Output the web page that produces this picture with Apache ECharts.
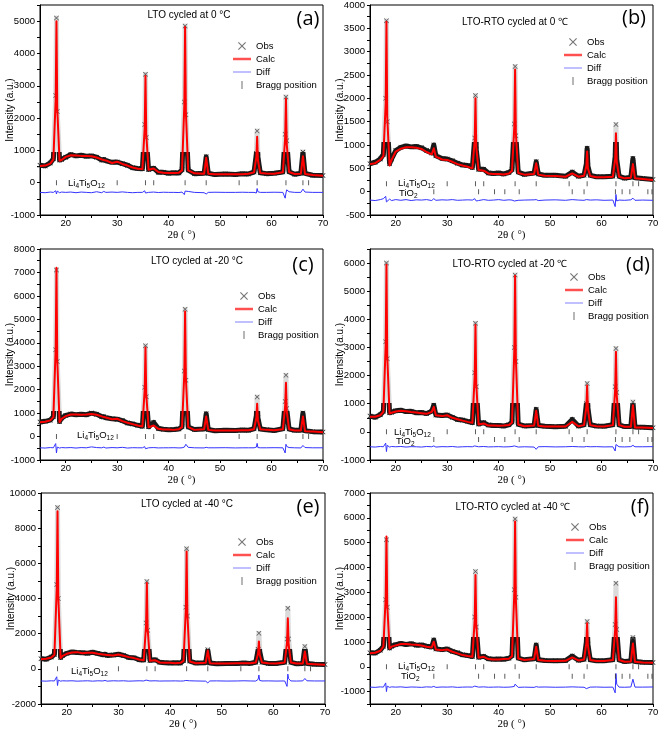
<!DOCTYPE html>
<html><head><meta charset="utf-8">
<script src="https://cdn.jsdelivr.net/npm/echarts@6/dist/echarts.min.js"></script>
<style>html,body{margin:0;padding:0;background:#fff}#c{width:660px;height:731px}</style>
</head><body><div id="c"></div>
<script>
// ---------- data ----------
const twoTheta = [15,16,17,17.6,18.05,18.2,18.35,18.8,19.2,20,
 21,22,23,24,25,26,27,27.4,27.8,29,
 30,31,32,33,34,34.9,35.35,35.5,35.65,36.1,
 37.1,38,39,40,41,42,42.6,43.05,43.2,43.35,
 43.8,45,46.9,47.3,47.7,49,51,53,54.3,55.5,
 56.6,57.05,57.2,57.35,57.8,59,60.5,62.2,62.65,62.8,
 62.95,63.4,64.5,65.7,66.1,66.5,68,70];

const obsA = [540,520,610,740,2700,5100,2200,700,720,790,
 870,830,850,820,830,790,700,720,680,630,
 640,590,540,460,440,430,1800,3360,1400,410,
 450,320,320,290,310,300,400,2500,4850,2100,
 390,280,290,800,290,250,270,255,275,270,
 330,900,1600,800,310,280,290,330,1500,2650,
 1300,340,260,290,950,290,230,220];
const calcA = [520,530,590,720,2600,5000,2300,680,700,800,
 850,840,830,830,820,780,720,700,690,610,
 650,580,530,470,430,420,1700,3300,1500,400,
 440,330,310,300,300,310,380,2400,4820,2200,
 380,290,280,770,280,260,260,265,265,275,
 320,800,1420,700,300,285,280,320,1400,2600,
 1200,330,270,280,820,270,240,215];
const diffA = [-300,-310,-290,-300,-250,-350,-260,-310,-290,-300,
 -290,-310,-290,-300,-310,-280,-310,-270,-300,-290,
 -300,-285,-300,-310,-300,-300,-250,-320,-280,-300,
 -290,-305,-295,-300,-300,-305,-290,-370,-260,-200,
 -270,-300,-310,-350,-300,-295,-300,-300,-295,-300,
 -300,-320,-180,-280,-300,-300,-295,-300,-480,-320,
 -220,-280,-300,-300,-200,-290,-300,-300];

const obsB = [600,630,700,800,2000,3660,1500,600,700,880,
 950,980,960,970,940,880,830,1000,770,710,
 700,660,610,570,560,520,1150,2060,900,480,
 480,400,390,400,380,410,470,1450,2680,1200,
 420,370,400,640,380,350,350,330,420,330,
 350,600,930,550,350,320,320,330,750,1440,
 700,330,290,310,710,300,280,260];
const calcB = [590,610,680,760,1900,3640,1600,560,680,860,
 920,950,950,940,915,850,800,930,750,690,
 680,640,590,560,535,500,1100,2000,950,465,
 450,390,380,380,370,390,450,1400,2620,1250,
 400,365,380,610,365,340,335,320,390,320,
 340,550,860,500,335,310,310,320,700,1250,
 650,320,285,300,590,285,270,250];
const diffB = [-180,-190,-170,-150,-100,-220,-250,-160,-190,-170,
 -185,-170,-190,-175,-180,-170,-190,-150,-185,-175,
 -180,-170,-185,-180,-175,-180,-150,-120,-200,-190,
 -170,-185,-180,-170,-185,-175,-180,-200,-160,-170,
 -185,-180,-175,-170,-190,-180,-175,-185,-170,-180,
 -185,-170,-150,-190,-180,-175,-185,-180,-320,-60,
 -200,-180,-185,-175,-140,-185,-180,-185];

const obsC = [620,650,700,850,3700,7100,3200,640,790,900,
 960,930,950,930,1000,950,850,850,800,760,
 740,680,580,540,480,440,2100,3870,1700,420,
 600,340,310,290,300,320,420,2800,5430,2400,
 410,300,320,970,300,250,270,255,280,270,
 330,900,1690,800,320,290,260,330,1500,2610,
 1200,320,270,270,1000,250,210,190];
const calcC = [610,630,690,830,3800,7200,3300,610,760,870,
 940,940,930,940,960,930,860,830,810,740,
 760,660,590,530,470,430,2000,3800,1800,400,
 470,330,300,300,285,315,400,2700,5330,2500,
 400,285,315,860,285,260,260,260,270,270,
 315,800,1400,700,315,285,270,315,1300,2290,
 1100,315,260,260,860,230,215,185];
const diffC = [-480,-490,-470,-480,-300,-700,-450,-490,-470,-480,
 -470,-490,-470,-480,-440,-470,-480,-450,-490,-470,
 -480,-460,-490,-475,-480,-480,-430,-520,-450,-480,
 -470,-485,-480,-480,-475,-485,-480,-450,-420,-330,
 -460,-480,-485,-460,-480,-480,-475,-485,-480,-480,
 -480,-450,-290,-470,-480,-480,-475,-480,-700,-330,
 -420,-470,-480,-485,-380,-470,-480,-480];

const obsD = [560,520,610,730,3200,6000,2600,680,700,750,
 770,720,730,680,690,650,730,950,600,580,
 600,520,440,420,370,330,2100,3860,1600,280,
 330,240,230,230,210,250,350,3000,5580,2500,
 270,210,230,800,230,200,180,200,440,210,
 250,1000,1720,850,250,210,200,250,1600,2960,
 1400,250,190,190,1060,170,160,150];
const calcD = [535,535,590,710,3100,5940,2700,650,680,725,
 750,735,710,690,665,640,710,890,590,560,
 590,500,450,400,355,320,2000,3800,1700,260,
 300,225,225,215,225,240,330,2900,5550,2600,
 260,200,225,750,215,190,190,190,355,200,
 240,900,1650,800,240,200,190,240,1500,2850,
 1300,240,180,180,950,155,155,140];
const diffD = [-530,-540,-520,-530,-400,-700,-480,-540,-520,-530,
 -520,-540,-525,-530,-540,-520,-530,-500,-540,-525,
 -530,-520,-540,-530,-525,-530,-500,-450,-560,-530,
 -520,-535,-530,-525,-535,-530,-520,-500,-450,-480,
 -540,-530,-540,-620,-530,-525,-535,-530,-520,-530,
 -535,-520,-510,-540,-530,-525,-535,-530,-680,-450,
 -520,-530,-535,-525,-480,-530,-530,-525];

const obsE = [580,550,670,820,4800,9180,4000,650,760,880,
 960,930,920,890,940,870,800,830,760,790,
 830,760,650,630,520,500,2600,4970,2200,480,
 520,370,350,330,340,330,470,3500,6830,3000,
 440,330,350,1080,330,290,310,300,330,310,
 370,1100,2030,1000,380,310,300,370,1700,3450,
 1700,370,290,310,1270,300,260,240];
const calcE = [550,570,645,800,4600,8960,4100,610,740,855,
 930,950,890,910,910,855,815,800,780,760,
 815,740,665,610,530,490,2500,4880,2300,455,
 490,360,340,340,320,340,450,3400,6680,3100,
 420,320,340,1040,320,300,300,320,320,320,
 360,900,1560,800,360,320,300,360,1500,2880,
 1400,360,300,300,990,285,265,230];
const diffE = [-690,-700,-680,-690,-450,-950,-640,-700,-680,-690,
 -680,-700,-690,-680,-700,-680,-690,-660,-700,-680,
 -690,-680,-700,-690,-680,-690,-640,-720,-660,-690,
 -680,-695,-690,-690,-685,-695,-690,-660,-640,-550,
 -680,-690,-700,-800,-690,-685,-695,-690,-680,-690,
 -695,-600,-350,-660,-690,-685,-695,-690,-1000,-300,
 -560,-690,-695,-685,-550,-680,-690,-690];

const obsF = [560,550,670,830,2700,5120,2400,760,830,890,
 940,900,930,870,880,830,800,1080,720,690,
 720,620,560,480,450,410,2000,3840,1600,380,
 420,320,300,310,300,340,440,3100,5950,2800,
 350,280,320,880,280,250,240,250,430,260,
 300,1000,1820,900,280,240,240,280,1700,3360,
 1500,280,210,230,1180,210,180,170];
const calcF = [540,565,645,810,2800,5250,2500,740,810,860,
 915,915,900,890,860,810,780,1010,700,670,
 700,605,540,470,430,400,1900,3700,1700,365,
 400,310,295,295,310,320,420,3000,5850,2700,
 335,270,310,810,270,240,230,240,375,255,
 295,950,1750,850,270,230,230,270,1500,2800,
 1300,270,200,215,940,200,175,160];
const diffF = [-820,-830,-810,-820,-650,-1000,-780,-830,-810,-820,
 -810,-830,-815,-820,-830,-810,-820,-790,-830,-815,
 -820,-810,-830,-820,-815,-820,-780,-720,-840,-820,
 -810,-825,-820,-815,-825,-820,-810,-790,-700,-760,
 -830,-820,-830,-800,-820,-815,-825,-820,-810,-820,
 -825,-880,-900,-800,-820,-815,-825,-820,-1050,-270,
 -700,-820,-825,-815,-500,-820,-820,-815];

// Bragg reflections
const braggLTO = [18.2,30.0,35.5,37.1,43.2,47.3,53.7,57.2,62.8,66.1,67.2];
const braggTiO2 = [27.4,36.1,39.2,41.2,44.0,54.3,56.6,62.7,64.0,65.5,69.0,69.8];
const braggRowLTO = [0,170,0,0,0,0];
const braggRowTiO2 = [null,0,null,-270,null,-380];

// axes / ticks
const xMin = 15, xMax = 70, xLabelStep = 10;
const yMin = [-1000,-500,-1000,-1000,-2000,-1500];
const yMax = [5500,4000,8000,6500,10000,7000];
const yLabelStep = [1000,500,1000,1000,2000,1000];

// texts
const titleTexts = ['LTO cycled at 0 °C','LTO-RTO cycled at 0 ℃','LTO cycled at -20 °C','LTO-RTO cycled at -20 ℃','LTO cycled at -40 °C','LTO-RTO cycled at -40 ℃'];
const panelTags = ['(a)','(b)','(c)','(d)','(e)','(f)'];

const obsSets = [obsA,obsB,obsC,obsD,obsE,obsF];
const calcSets = [calcA,calcB,calcC,calcD,calcE,calcF];
const diffSets = [diffA,diffB,diffC,diffD,diffE,diffF];

// ---------- layout & style ----------
const layout = [
 {left:40, top:5, width:283, height:210},
 {left:370, top:5, width:283, height:210},
 {left:40, top:249, width:283, height:211},
 {left:370, top:249, width:283, height:211},
 {left:41, top:493, width:284, height:211},
 {left:370, top:493, width:283, height:211}
];
const titlePos = [[189,15],[515,22],[197,261],[510,264],[187,504],[513,507]];
const tagPos = [[308,19],[634,18],[303,265],[638,265],[308,507],[640,507]];
const legendPos = [[233,41],[564,37],[235,291],[565,272],[233,537],[566,522]];
const ltoLabelPos = [[68,183],[398,183],[77,435],[394,432],[71,671],[398,666]];
const tioLabelPos = [null,[399,193],null,[396,441],null,[401,676]];
const obsGreyAbove = [960,1060,1110,1040,1110,1180]; // band colour switch level (style only)
const BAND_DARK = '#1a1a1a', BAND_LIGHT = 'rgba(150,150,150,0.35)';

const xPath = 'path://M0,1 L1,0 L5,4 L9,0 L10,1 L6,5 L10,9 L9,10 L5,6 L1,10 L0,9 L4,5 Z';
const calcIcon = 'path://M0,0 L18,0 L18,2.5 L0,2.5 Z';
const diffIcon = 'path://M0,0 L18,0 L18,1 L0,1 Z';
const braggIcon = 'path://M0,0 L1,0 L1,6 L0,6 Z';
const FONT = 'Liberation Sans';
const LW = 5; // obs band width

const grids=[], xAxes=[], yAxes=[], series=[], legends=[], graphics=[];
for (let i=0;i<6;i++){
  const L = layout[i];
  grids.push({left:L.left, top:L.top, width:L.width, height:L.height, show:true,
    borderColor:'#000', borderWidth:1, backgroundColor:'transparent', containLabel:false, outerBoundsMode:'none'});
  xAxes.push({gridIndex:i, type:'value', min:xMin, max:xMax, interval:xLabelStep/2,
    name:'2θ ( °)', nameLocation:'middle', nameGap:15,
    nameTextStyle:{fontFamily:'Liberation Serif', fontSize:11, color:'#000'},
    axisLine:{show:true, onZero:false, lineStyle:{color:'#000', width:1}},
    axisTick:{show:true, inside:false, length:3, lineStyle:{color:'#000'}},
    axisLabel:{margin:3, fontSize:9.5, color:'#000', fontFamily:FONT,
      formatter: v => (v % xLabelStep === 0 ? String(v) : '')},
    splitLine:{show:false}});
  const st = yLabelStep[i];
  yAxes.push({gridIndex:i, type:'value', min:yMin[i], max:yMax[i], interval:st/2,
    name:'Intensity (a.u.)', nameLocation:'middle', nameGap:25, nameRotate:90, nameMoveOverlap:false,
    nameTextStyle:{fontFamily:FONT, fontSize:10, color:'#000'},
    axisLine:{show:true, onZero:false, lineStyle:{color:'#000', width:1}},
    axisTick:{show:true, inside:false, length:3, lineStyle:{color:'#000'}},
    axisLabel:{margin:5, fontSize:9.5, color:'#000', fontFamily:FONT,
      formatter: v => (v % st === 0 ? String(v) : '')},
    splitLine:{show:false}});

  // Obs band: dark in the background, light on the peaks (gradient relative to the stroked bbox)
  const oMax = Math.max(...obsSets[i]), oMin = Math.min(...obsSets[i]);
  const pxPerUnit = L.height / (yMax[i] - yMin[i]);
  const spanPx = (oMax - oMin) * pxPerUnit + LW;
  const f = Math.min(1, Math.max(0, ((oMax - obsGreyAbove[i]) * pxPerUnit + LW / 2) / spanPx));
  const bandColor = new echarts.graphic.LinearGradient(0, 0, 0, 1, [
    {offset:0, color:BAND_LIGHT}, {offset:f, color:BAND_LIGHT},
    {offset:f, color:BAND_DARK}, {offset:1, color:BAND_DARK}]);
  const thr = obsGreyAbove[i];
  series.push({name:'Obs', type:'line', xAxisIndex:i, yAxisIndex:i,
    data: twoTheta.map((x,k)=>[x, obsSets[i][k]]),
    symbol:xPath, symbolSize:5, showSymbol:true, showAllSymbol:true,
    itemStyle:{color: p => (p.value[1] >= thr ? '#555' : BAND_DARK)},
    lineStyle:{color:bandColor, width:LW, join:'round'}, z:2, silent:true});
  series.push({name:'Calc', type:'line', xAxisIndex:i, yAxisIndex:i,
    data: twoTheta.map((x,k)=>[x, calcSets[i][k]]),
    symbol:'none', itemStyle:{color:'#ff0000'}, lineStyle:{color:'#ff0000', width:2, join:'round'}, z:4, silent:true});
  series.push({name:'Diff', type:'line', xAxisIndex:i, yAxisIndex:i,
    data: twoTheta.map((x,k)=>[x, diffSets[i][k]]),
    symbol:'none', itemStyle:{color:'#3333ff'}, lineStyle:{color:'#3333ff', width:1}, z:3, silent:true});
  series.push({name:'Bragg position', type:'scatter', xAxisIndex:i, yAxisIndex:i,
    data: braggLTO.map(x=>[x, braggRowLTO[i]]),
    symbol:'rect', symbolSize:[1,5], itemStyle:{color:'#333'}, z:3, silent:true});
  if (braggRowTiO2[i] !== null) {
    series.push({name:'Bragg position', type:'scatter', xAxisIndex:i, yAxisIndex:i,
      data: braggTiO2.map(x=>[x, braggRowTiO2[i]]),
      symbol:'rect', symbolSize:[1,5], itemStyle:{color:'#333'}, z:3, silent:true});
  }

  legends.push({orient:'vertical', left:legendPos[i][0], top:legendPos[i][1], padding:0,
    itemWidth:18, itemHeight:8, itemGap:3, selectedMode:false,
    textStyle:{fontFamily:FONT, fontSize:9.5, color:'#000'},
    data:[
      {name:'Obs', icon:xPath, itemStyle:{color:'#777'}},
      {name:'Calc', icon:calcIcon, itemStyle:{color:'#ff5050'}},
      {name:'Diff', icon:diffIcon, itemStyle:{color:'#8080ff'}},
      {name:'Bragg position', icon:braggIcon, itemStyle:{color:'#777'}}
    ]});

  graphics.push({type:'text', x:titlePos[i][0], y:titlePos[i][1], silent:true,
    style:{text:titleTexts[i], fill:'#000', font:'10px "Liberation Sans"', align:'center', verticalAlign:'middle'}});
  graphics.push({type:'text', x:tagPos[i][0], y:tagPos[i][1], silent:true,
    style:{text:panelTags[i], fill:'#000', font:'20px "Open Sans"', align:'center', verticalAlign:'middle'}});
  const rich = {m:{fontSize:9.5, fontFamily:FONT, lineHeight:13, verticalAlign:'middle', fill:'#000'},
                s:{fontSize:6.5, fontFamily:FONT, lineHeight:13, verticalAlign:'bottom', fill:'#000'}};
  graphics.push({type:'text', x:ltoLabelPos[i][0], y:ltoLabelPos[i][1], silent:true,
    style:{text:'{m|Li}{s|4}{m|Ti}{s|5}{m|O}{s|12}', rich:rich, fill:'#000', align:'left', verticalAlign:'middle'}});
  if (tioLabelPos[i]) {
    graphics.push({type:'text', x:tioLabelPos[i][0], y:tioLabelPos[i][1], silent:true,
      style:{text:'{m|TiO}{s|2}', rich:rich, fill:'#000', align:'left', verticalAlign:'middle'}});
  }
}

const chart = echarts.init(document.getElementById('c'), null, {renderer:'canvas'});
chart.setOption({
  animation:false,
  backgroundColor:'#fff',
  grid:grids, xAxis:xAxes, yAxis:yAxes, legend:legends,
  series:series, graphic:graphics
});
</script>
</body></html>
